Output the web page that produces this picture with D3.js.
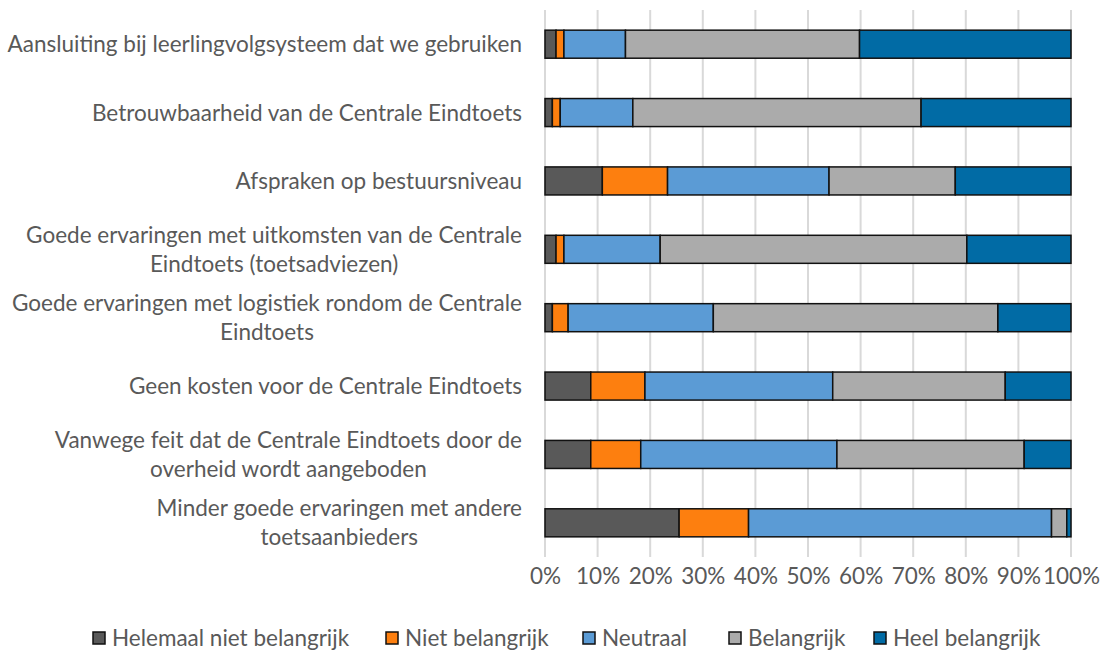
<!DOCTYPE html>
<html>
<head>
<meta charset="utf-8">
<script src="https://cdn.jsdelivr.net/npm/d3@7"></script>
<style>
  body { margin: 0; background: #fff; }
  text { font-family: Lato, "Open Sans", sans-serif; fill: #595959; }
</style>
</head>
<body>
<div id="chart-area"></div>
<script>
// Categories (top to bottom), each label split in the lines it is drawn with
const categories = [
    ["Aansluiting bij leerlingvolgsysteem dat we gebruiken"],
    ["Betrouwbaarheid van de Centrale Eindtoets"],
    ["Afspraken op bestuursniveau"],
    ["Goede ervaringen met uitkomsten van de Centrale", "Eindtoets (toetsadviezen)"],
    ["Goede ervaringen met logistiek rondom de Centrale", "Eindtoets"],
    ["Geen kosten voor de Centrale Eindtoets"],
    ["Vanwege feit dat de Centrale Eindtoets door de", "overheid wordt aangeboden"],
    ["Minder goede ervaringen met andere", "toetsaanbieders"]
]

const seriesNames = ["Helemaal niet belangrijk", "Niet belangrijk", "Neutraal", "Belangrijk", "Heel belangrijk"]

// percentages per series, same order as categories
const helemaalNiet = [2.1, 1.4, 10.9, 2.1, 1.4, 8.7, 8.7, 25.5]
const niet         = [1.5, 1.5, 12.4, 1.5, 3.0, 10.3, 9.5, 13.2]
const neutraal     = [11.7, 13.8, 30.7, 18.3, 27.6, 35.7, 37.3, 57.6]
const belangrijk   = [44.5, 54.8, 24.0, 58.3, 54.1, 32.8, 35.6, 2.9]
const heel         = [40.2, 28.5, 22.0, 19.8, 13.9, 12.5, 8.9, 0.8]

const xTicks = [0, 10, 20, 30, 40, 50, 60, 70, 80, 90, 100]

const colors = ["#595959", "#FD7F0F", "#5B9BD5", "#ABABAB", "#016BA5"]

const margin = {left: 545, right: 29, top: 10, bottom: 97},
    width = 1100 - margin.left - margin.right,
    height = 654 - margin.top - margin.bottom

const fontSize = "22.5px"

const svg = d3.select("#chart-area").append("svg")
    .attr("width", 1100)
    .attr("height", 654)

const g = svg.append("g")
    .attr("transform", `translate(${margin.left}, ${margin.top})`)

// build rows for the stack
const rows = categories.map((c, i) => ({
    key: i,
    [seriesNames[0]]: helemaalNiet[i],
    [seriesNames[1]]: niet[i],
    [seriesNames[2]]: neutraal[i],
    [seriesNames[3]]: belangrijk[i],
    [seriesNames[4]]: heel[i]
}))

// 100% stacked: normalise each row
const stack = d3.stack().keys(seriesNames).offset(d3.stackOffsetExpand)
const stacked = stack(rows)

const x = d3.scaleLinear().domain([0, 1]).range([0, width])
const y = d3.scaleBand().domain(d3.range(categories.length)).range([0, height]).paddingInner(0.59).paddingOuter(0.295)

// Gridlines
g.append("g")
    .selectAll("line")
    .data(xTicks)
    .join("line")
    .attr("x1", d => x(d / 100))
    .attr("x2", d => x(d / 100))
    .attr("y1", 0)
    .attr("y2", height)
    .attr("stroke", "#D9D9D9")
    .attr("stroke-width", 2)

// Bars
g.append("g")
    .selectAll("g")
    .data(stacked)
    .join("g")
    .attr("fill", (d, i) => colors[i])
    .selectAll("rect")
    .data(d => d)
    .join("rect")
    .attr("x", d => x(d[0]))
    .attr("width", d => x(d[1]) - x(d[0]))
    .attr("y", d => y(d.data.key))
    .attr("height", y.bandwidth())
    .attr("stroke", "#111")
    .attr("stroke-width", 1.5)

// X axis labels
const xAxisCall = d3.axisBottom(x)
    .tickValues(xTicks.map(d => d / 100))
    .tickFormat(d3.format(".0%"))
    .tickSize(0)
    .tickPadding(11)
const xAxis = g.append("g")
    .attr("transform", `translate(0, ${height})`)
    .call(xAxisCall)
xAxis.select(".domain").remove()
xAxis.selectAll("text")
    .attr("font-size", fontSize)
    .attr("font-family", "Lato, 'Open Sans', sans-serif")
    .attr("fill", "#595959")

// Category labels: right aligned block, lines centred inside it
const labelRight = -23
const lineH = 29
const labels = g.append("g")
categories.forEach((lines, i) => {
    const t = labels.append("text")
        .attr("font-size", fontSize)
        .attr("text-anchor", "middle")
    const cy = y(i) + y.bandwidth() / 2
    const y0 = cy - (lines.length - 1) * lineH / 2 + 8
    lines.forEach((ln, j) => {
        t.append("tspan").attr("y", y0 + j * lineH).text(ln)
    })
    const maxW = d3.max(t.selectAll("tspan").nodes(), n => n.getComputedTextLength())
    t.selectAll("tspan").attr("x", labelRight - maxW / 2)
})

// Legend
const legendX = [93, 386, 583, 729, 874]
const legend = svg.append("g")
    .attr("transform", `translate(0, 638)`)
seriesNames.forEach((name, i) => {
    const item = legend.append("g").attr("transform", `translate(${legendX[i]}, 0)`)
    item.append("rect")
        .attr("x", 0)
        .attr("y", -6)
        .attr("width", 12)
        .attr("height", 12)
        .attr("fill", colors[i])
        .attr("stroke", "#111")
        .attr("stroke-width", 1.5)
    item.append("text")
        .attr("x", 19)
        .attr("y", 8)
        .attr("font-size", fontSize)
        .text(name)
})
</script>
</body>
</html>
